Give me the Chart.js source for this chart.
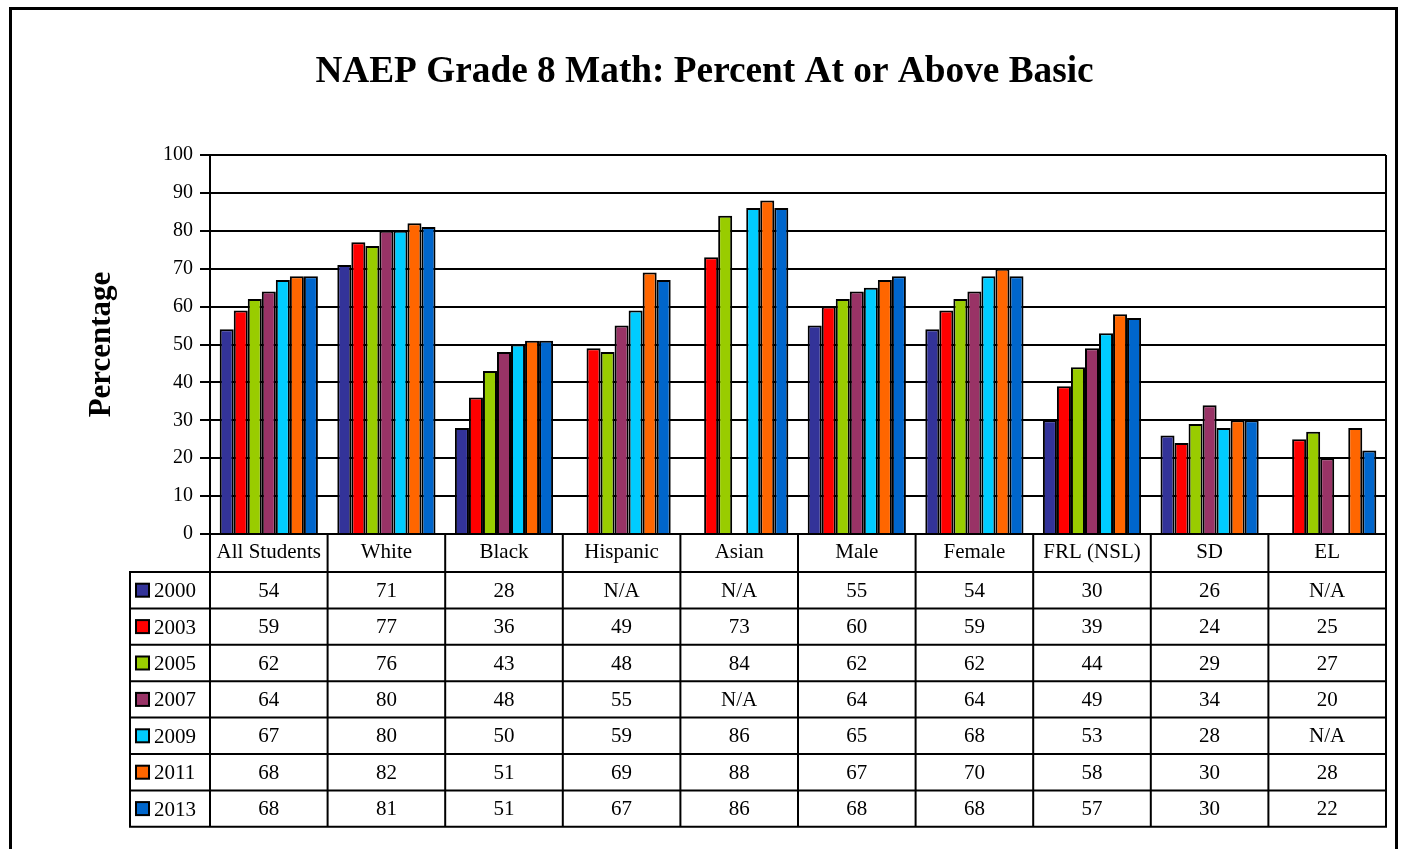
<!DOCTYPE html>
<html>
<head>
<meta charset="utf-8">
<title>NAEP Grade 8 Math</title>
<script src="https://cdn.jsdelivr.net/npm/chart.js@4/dist/chart.umd.min.js"></script>
<style>
  html, body { margin: 0; padding: 0; background: #fff; }
  canvas { display: block; }
</style>
</head>
<body>
<canvas id="naepChart" width="1403" height="849"></canvas>
<script>
//categories and years
const categories = ['All Students', 'White', 'Black', 'Hispanic', 'Asian', 'Male', 'Female', 'FRL (NSL)', 'SD', 'EL'];
const years = ['2000', '2003', '2005', '2007', '2009', '2011', '2013'];

//percent at or above basic, null = N/A
const v2000 = [54, 71, 28, null, null, 55, 54, 30, 26, null];
const v2003 = [59, 77, 36, 49, 73, 60, 59, 39, 24, 25];
const v2005 = [62, 76, 43, 48, 84, 62, 62, 44, 29, 27];
const v2007 = [64, 80, 48, 55, null, 64, 64, 49, 34, 20];
const v2009 = [67, 80, 50, 59, 86, 65, 68, 53, 28, null];
const v2011 = [68, 82, 51, 69, 88, 67, 70, 58, 30, 28];
const v2013 = [68, 81, 51, 67, 86, 68, 68, 57, 30, 22];

const yearColors = ['#333399', '#FF0000', '#99CC00', '#993366', '#00CCFF', '#FF6600', '#0066CC'];

//y axis ticks
const yMin = 0;
const yMax = 100;
const yStep = 10;

const chartTitle = 'NAEP Grade 8 Math: Percent At or Above Basic';
const serif = '"Liberation Serif", "Times New Roman", Times, serif';
const allValues = [v2000, v2003, v2005, v2007, v2009, v2011, v2013];

//draws the title, the data table under the plot (lined up with the x scale) and the frame
const dataTable = {
    id: 'dataTable',
    afterDraw(chart) {
        const ctx = chart.ctx;
        const a = chart.chartArea;
        const x = chart.scales.x;
        const colW = (a.right - a.left) / categories.length;
        const legendLeft = a.left - 80;
        const rowsTop = a.bottom + 38;
        const rowH = 36.4;
        const bottom = rowsTop + rowH * years.length;

        ctx.save();
        //title
        ctx.fillStyle = '#000';
        ctx.font = 'bold 37.3px ' + serif;
        ctx.textAlign = 'center';
        ctx.textBaseline = 'alphabetic';
        ctx.fillText(chartTitle, 704.5, 82);

        ctx.strokeStyle = '#000';
        ctx.lineWidth = 2;
        ctx.beginPath();
        //right edge of plot area
        ctx.moveTo(a.right, a.top);
        ctx.lineTo(a.right, a.bottom);
        for (let r = 0; r <= years.length; r++) {
            const y = rowsTop + r * rowH;
            ctx.moveTo(legendLeft - 1, y);
            ctx.lineTo(a.right + 1, y);
        }
        ctx.moveTo(legendLeft, rowsTop);
        ctx.lineTo(legendLeft, bottom);
        for (let c = 0; c <= categories.length; c++) {
            const xx = a.left + c * colW;
            ctx.moveTo(xx, a.bottom);
            ctx.lineTo(xx, bottom);
        }
        ctx.stroke();

        ctx.font = '21px ' + serif;
        ctx.textBaseline = 'middle';
        chart.data.datasets.forEach((ds, r) => {
            const cy = rowsTop + (r + 0.5) * rowH;
            //legend key
            ctx.fillStyle = ds.backgroundColor;
            ctx.fillRect(legendLeft + 6, cy - 6.5, 13, 13);
            ctx.lineWidth = 2;
            ctx.strokeRect(legendLeft + 6, cy - 6.5, 13, 13);
            ctx.fillStyle = '#000';
            ctx.textAlign = 'left';
            ctx.fillText(ds.label, legendLeft + 24, cy + 1.5);
            //values
            ctx.textAlign = 'center';
            ds.data.forEach((v, i) => {
                ctx.fillText(v === null ? 'N/A' : String(v), x.getPixelForValue(i), cy + 1);
            });
        });

        //outer frame
        ctx.lineWidth = 3;
        ctx.strokeRect(10.5, 8.5, 1386, 900);
        ctx.restore();
    }
};

const config = {
    type: 'bar',
    data: {
        labels: categories,
        datasets: years.map((yr, i) => ({
            label: yr,
            data: allValues[i],
            backgroundColor: yearColors[i],
            borderColor: '#000',
            borderWidth: 2,
            barPercentage: 1.0,
            categoryPercentage: 0.835
        }))
    },
    options: {
        responsive: false,
        animation: false,
        devicePixelRatio: 1,
        layout: {
            padding: { left: 0, right: 17, top: 155, bottom: 0 }
        },
        scales: {
            x: {
                grid: { display: false, drawTicks: false },
                border: { display: false },
                ticks: {
                    autoSkip: false,
                    maxRotation: 0,
                    padding: 6,
                    color: '#000',
                    font: { family: serif, size: 21 }
                },
                afterFit: function(scale) {
                    scale.height = 315;
                }
            },
            y: {
                min: yMin,
                max: yMax,
                ticks: {
                    stepSize: yStep,
                    padding: 7,
                    color: '#000',
                    font: { family: serif, size: 20 }
                },
                grid: {
                    color: '#000',
                    lineWidth: 2,
                    tickLength: 10
                },
                border: { display: true, color: '#000', width: 2 },
                title: {
                    display: true,
                    text: 'Percentage',
                    color: '#000',
                    font: { family: serif, size: 31, weight: 'bold' },
                    padding: { top: 83, bottom: 0 }
                },
                afterFit: function(scale) {
                    scale.width = 210;
                }
            }
        },
        plugins: {
            legend: { display: false },
            tooltip: { enabled: false },
            title: { display: false }
        }
    },
    plugins: [dataTable]
};

window.onload = function() {
    const ctx = document.getElementById('naepChart').getContext('2d');
    window.naepChart = new Chart(ctx, config);
};
</script>
</body>
</html>
